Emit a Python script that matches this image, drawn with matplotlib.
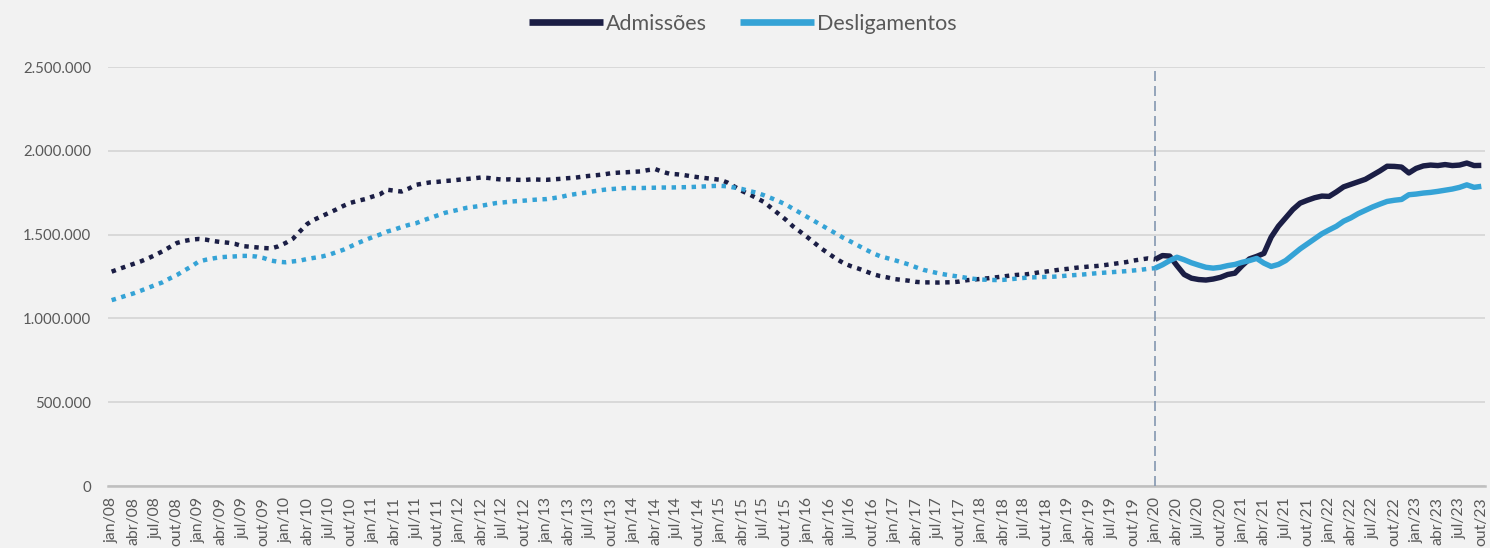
import matplotlib
matplotlib.use('Agg')
import matplotlib.pyplot as plt
from matplotlib.ticker import FuncFormatter, FixedLocator

# ---- data (thousands) ----
month_names = ['jan', 'fev', 'mar', 'abr', 'mai', 'jun', 'jul', 'ago', 'set', 'out', 'nov', 'dez']
years = list(range(2008, 2024))
categories = [f"{m}/{y % 100:02d}" for y in years for m in month_names][:190]

admissoes = [
    # 2008
    1279, 1295, 1310, 1325, 1340, 1358, 1378, 1400, 1425, 1450, 1462, 1470,
    # 2009
    1474, 1470, 1462, 1456, 1452, 1445, 1432, 1428, 1424, 1420, 1418, 1430,
    # 2010
    1450, 1475, 1520, 1564, 1590, 1610, 1630, 1650, 1672, 1690, 1702, 1712,
    # 2011
    1727, 1740, 1768, 1762, 1757, 1775, 1797, 1805, 1812, 1815, 1820, 1823,
    # 2012
    1828, 1832, 1836, 1841, 1838, 1832, 1828, 1830, 1827, 1826, 1830, 1828,
    # 2013
    1827, 1830, 1833, 1837, 1840, 1846, 1851, 1855, 1860, 1867, 1870, 1872,
    # 2014
    1875, 1877, 1885, 1891, 1875, 1863, 1860, 1855, 1848, 1842, 1837, 1832,
    # 2015
    1827, 1810, 1785, 1760, 1740, 1718, 1695, 1660, 1625, 1590, 1550, 1518,
    # 2016
    1485, 1450, 1415, 1385, 1355, 1330, 1312, 1298, 1282, 1265, 1253, 1245,
    # 2017
    1235, 1230, 1225, 1218, 1215, 1215, 1214, 1215, 1216, 1220, 1228, 1232,
    # 2018
    1236, 1240, 1245, 1250, 1256, 1260, 1262, 1268, 1275, 1280, 1286, 1292,
    # 2019
    1296, 1302, 1306, 1310, 1313, 1318, 1324, 1330, 1336, 1345, 1352, 1358,
    # 2020
    1352, 1375, 1372, 1315, 1262, 1240, 1232, 1229, 1235, 1245, 1262, 1270,
    # 2021
    1315, 1355, 1370, 1388, 1485, 1550, 1600, 1650, 1688, 1705, 1720, 1730,
    # 2022
    1728, 1755, 1785, 1800, 1815, 1830, 1855, 1880, 1908, 1907, 1903, 1868,
    # 2023
    1895, 1910, 1915, 1912, 1918, 1912, 1915, 1927, 1912, 1913,
]

desligamentos = [
    # 2008
    1109, 1122, 1136, 1149, 1165, 1182, 1199, 1215, 1238, 1259, 1285, 1310,
    # 2009
    1339, 1350, 1358, 1365, 1368, 1370, 1373, 1373, 1369, 1360, 1345, 1338,
    # 2010
    1335, 1340, 1345, 1355, 1362, 1369, 1380, 1395, 1410, 1430, 1450, 1468,
    # 2011
    1485, 1500, 1518, 1530, 1545, 1558, 1568, 1585, 1600, 1615, 1630, 1640,
    # 2012
    1650, 1660, 1666, 1672, 1680, 1688, 1692, 1697, 1700, 1703, 1707, 1710,
    # 2013
    1712, 1718, 1725, 1735, 1742, 1748, 1755, 1762, 1768, 1772, 1775, 1778,
    # 2014
    1778, 1778, 1779, 1780, 1781, 1781, 1782, 1783, 1784, 1786, 1788, 1790,
    # 2015
    1791, 1788, 1780, 1772, 1760, 1750, 1735, 1718, 1700, 1680, 1655, 1630,
    # 2016
    1605, 1580, 1555, 1530, 1505, 1480, 1458, 1435, 1412, 1390, 1372, 1360,
    # 2017
    1348, 1335, 1322, 1305, 1290, 1280, 1270, 1262, 1255, 1249, 1242, 1236,
    # 2018
    1232, 1230, 1229, 1230, 1234, 1238, 1242, 1245, 1246, 1248, 1249, 1252,
    # 2019
    1256, 1259, 1262, 1266, 1270, 1273, 1276, 1279, 1282, 1286, 1290, 1296,
    # 2020
    1300, 1320, 1345, 1365, 1350, 1332, 1318, 1305, 1300, 1305, 1315, 1322,
    # 2021
    1335, 1345, 1358, 1330, 1310, 1322, 1345, 1380, 1415, 1445, 1475, 1505,
    # 2022
    1528, 1550, 1580, 1600, 1625, 1645, 1665, 1682, 1698, 1705, 1710, 1738,
    # 2023
    1742, 1748, 1752, 1758, 1765, 1772, 1782, 1797, 1782, 1788,
]

series_names = ['Admissões', 'Desligamentos']
split_index = categories.index('jan/20')

# ---- style ----
BG = '#f2f2f2'
DARK = '#1b1e45'
LIGHT = '#35a3d6'
TXT = '#595959'
plt.rcParams['font.family'] = ['Lato', 'DejaVu Sans']

fig = plt.figure(figsize=(14.9, 5.48), dpi=100, facecolor=BG)
ax = fig.add_axes([0.0725, 0.1131, 0.9241, 0.7646], facecolor=BG)

x = list(range(len(categories)))
adm = [v * 1000 for v in admissoes]
des = [v * 1000 for v in desligamentos]

s = split_index
for vals, col, name in [(adm, DARK, series_names[0]), (des, LIGHT, series_names[1])]:
    ax.plot(x[:s + 1], vals[:s + 1], color=col, lw=3.2, linestyle=(0, (1, 1.25)),
            dash_capstyle='butt', zorder=3)
    ax.plot(x[s:], vals[s:], color=col, lw=3.9, solid_capstyle='butt',
            solid_joinstyle='round', zorder=4, label=name)

ax.axvline(s, color='#8497b0', lw=1.2, dashes=(6, 3), zorder=2)

ax.set_xlim(-0.5, len(categories) - 0.5)
ax.set_ylim(0, 2500000)
ax.yaxis.set_major_locator(FixedLocator([0, 500000, 1000000, 1500000, 2000000, 2500000]))
ax.yaxis.set_major_formatter(FuncFormatter(lambda v, p: f"{int(v):,}".replace(',', '.')))
ax.grid(axis='y', color='#d9d9d9', lw=1.4, zorder=0)
ax.set_axisbelow(True)

tick_pos = [i for i, c in enumerate(categories) if c.split('/')[0] in ('jan', 'abr', 'jul', 'out')]
ax.set_xticks(tick_pos)
ax.set_xticklabels([categories[i] for i in tick_pos], rotation=90, va='top', ha='center')

ax.tick_params(axis='y', length=0, pad=12, labelsize=10.8, labelcolor=TXT)
ax.tick_params(axis='x', length=0, pad=8, labelsize=11.3, labelcolor=TXT)

for side in ('top', 'right', 'left'):
    ax.spines[side].set_visible(False)
ax.spines['bottom'].set_color('#bfbfbf')
ax.spines['bottom'].set_linewidth(1.8)
ax.spines['bottom'].set_zorder(1)

leg = fig.legend(loc='center', bbox_to_anchor=(0.4985, 0.957), ncol=2, frameon=False,
                 fontsize=15.5, handlelength=3.45, handletextpad=0.15, columnspacing=1.5)
for t in leg.get_texts():
    t.set_color(TXT)
for h in leg.get_lines():
    h.set_linewidth(4.8)

fig.savefig('out.png', dpi=100, facecolor=BG)
